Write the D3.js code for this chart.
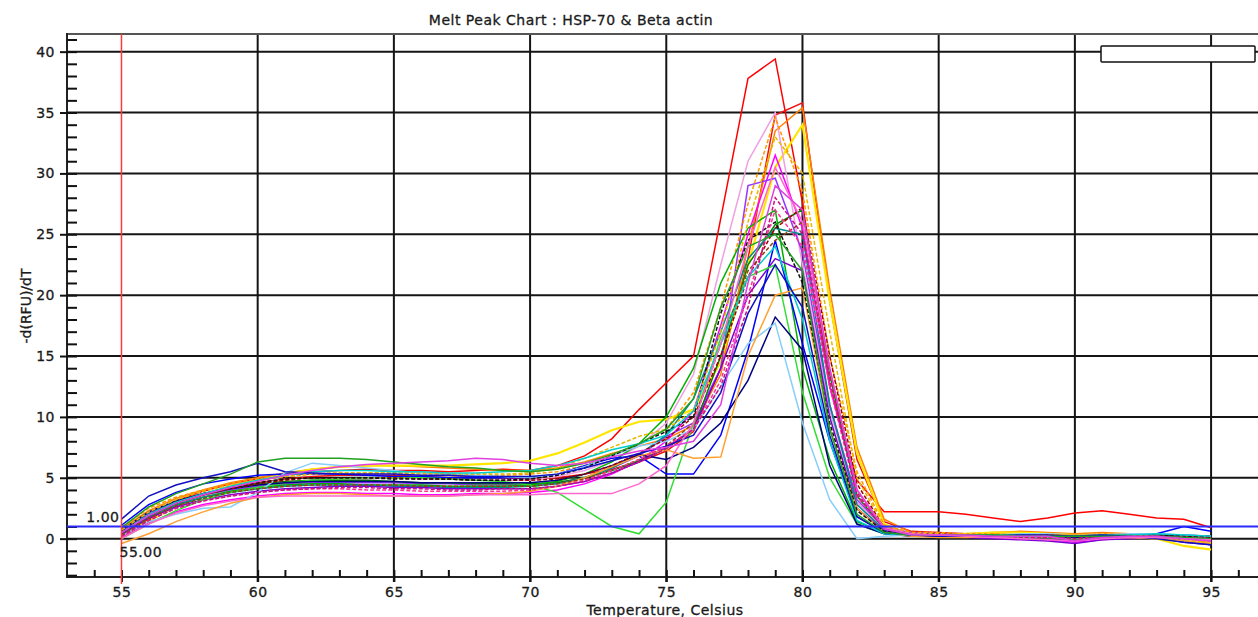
<html>
<head>
  <meta http-equiv="Content-Type" content="text/html;charset=utf-8"/>
  <script src="https://cdn.jsdelivr.net/npm/d3@7/dist/d3.min.js"></script>
  <style>
    body { margin: 0; background: #fff; }
    svg text { font-family: "DejaVu Sans", sans-serif; fill: #1a1a1a; stroke: #1a1a1a; stroke-width: 0.3; font-size: 14px; letter-spacing: 0.5px; }
    .tick line { stroke: #111; stroke-width: 2; }
    .domain { display: none; }
  </style>
</head>
<body>
<div id="chart"></div>
<script>
// melt temperatures (Celsius), one reading per degree
var temps = [55, 56, 57, 58, 59, 60, 61, 62, 63, 64, 65, 66, 67, 68, 69, 70, 71, 72, 73, 74,
             75, 76, 77, 78, 79, 80, 81, 82, 83, 84, 85, 86, 87, 88, 89, 90, 91, 92, 93, 94, 95];

var xMajorTicks = [55, 60, 65, 70, 75, 80, 85, 90, 95];
var yMajorTicks = [0, 5, 10, 15, 20, 25, 30, 35, 40];

var threshold = 1.00;
var beginTemp = 55.00;

var wellColors = ["#ff0000", "#ee1111", "#ff8000", "#ffe600", "#f0a0e0", "#ff00ff", "#9933ff",
                  "#ff9900", "#008000", "#00b000", "#008b8b", "#0000ff", "#7b00d4", "#33dd33",
                  "#000080", "#87cefa", "#ffa030", "#a00000", "#8b4513", "#111111", "#e6b800",
                  "#ff3399", "#00cccc", "#c71585", "#1010c0", "#20a020", "#ff66cc", "#e040e0"];

var wellDashed = [false, false, false, false, false, false, false,
                  true, false, false, false, false, false, false,
                  false, false, false, true, true, true, true,
                  true, false, true, false, false, false, false];

// -d(RFU)/dT per well, 55..95
var wellValues = [
  [0.6, 2.0, 3.1, 3.9, 4.5, 4.9, 5.3, 5.5, 5.6, 5.7, 5.6, 5.6, 5.5, 5.6, 5.7, 5.6, 6.0, 6.8, 8.2, 10.6,
   12.8, 15.0, 26.3, 37.8, 39.4, 27.6, 12.5, 4.8, 2.2, 2.2, 2.2, 2.0, 1.7, 1.4, 1.7, 2.1, 2.3, 2.0, 1.7, 1.6, 0.9],
  [0.2, 1.6, 2.7, 3.5, 4.1, 4.6, 4.9, 5.1, 5.2, 5.2, 5.2, 5.1, 5.0, 5.1, 5.0, 4.9, 5.0, 5.3, 5.7, 6.3,
   7.2, 8.8, 14.0, 23.0, 34.8, 35.8, 19.5, 6.5, 1.4, 0.6, 0.5, 0.4, 0.4, 0.3, 0.3, 0.2, 0.3, 0.3, 0.3, 0.2, 0.1],
  [0.8, 2.3, 3.3, 4.0, 4.6, 5.0, 5.4, 5.7, 5.9, 6.0, 6.0, 5.9, 5.8, 5.7, 5.6, 5.6, 5.8, 6.3, 7.0, 7.6,
   8.2, 9.3, 13.5, 24.0, 33.5, 35.4, 20.5, 7.5, 1.6, 0.5, 0.4, 0.4, 0.5, 0.6, 0.5, 0.4, 0.5, 0.4, 0.3, 0.0, -0.3],
  [0.4, 1.4, 2.7, 3.6, 4.3, 4.8, 5.3, 5.7, 5.9, 6.0, 6.0, 6.0, 6.0, 6.1, 6.2, 6.4, 7.0, 7.9, 8.9, 9.6,
   9.8, 10.6, 14.5, 22.5, 30.5, 34.0, 19.5, 7.0, 1.2, 0.3, 0.2, 0.4, 0.5, 0.5, 0.4, 0.3, 0.3, 0.2, 0.0, -0.6, -0.9],
  [0.3, 1.8, 2.8, 3.5, 3.9, 4.3, 4.6, 4.8, 4.9, 4.9, 5.0, 4.9, 4.9, 4.8, 4.8, 4.8, 5.1, 5.6, 6.4, 7.6,
   9.5, 13.5, 22.5, 31.0, 35.0, 22.5, 10.5, 3.0, 0.8, 0.4, 0.3, 0.3, 0.2, 0.2, 0.1, 0.1, 0.2, 0.3, 0.2, 0.1, 0.0],
  [0.1, 1.3, 2.2, 2.8, 3.2, 3.5, 3.7, 3.8, 3.8, 3.7, 3.7, 3.6, 3.6, 3.7, 3.7, 3.8, 4.0, 4.5, 5.3, 6.4,
   8.0, 10.5, 17.5, 25.0, 31.5, 25.5, 12.5, 4.0, 0.9, 0.4, 0.3, 0.2, 0.1, 0.0, -0.1, -0.3, -0.1, 0.1, 0.1, 0.0, -0.2],
  [0.6, 2.1, 3.0, 3.6, 4.0, 4.3, 4.5, 4.6, 4.6, 4.6, 4.6, 4.5, 4.5, 4.4, 4.4, 4.4, 4.6, 5.0, 5.8, 6.8,
   8.4, 9.5, 14.0, 29.0, 29.6, 23.5, 11.0, 3.2, 0.9, 0.5, 0.4, 0.3, 0.3, 0.2, 0.2, 0.1, 0.2, 0.2, 0.1, -0.2, -0.5],
  [0.9, 2.5, 3.4, 4.0, 4.5, 4.9, 5.1, 5.3, 5.4, 5.4, 5.4, 5.3, 5.3, 5.2, 5.2, 5.3, 5.5, 6.0, 6.8, 7.8,
   9.0, 12.0, 19.0, 27.5, 34.6, 28.5, 15.0, 5.5, 1.1, 0.5, 0.5, 0.4, 0.4, 0.3, 0.3, 0.3, 0.4, 0.4, 0.3, 0.2, 0.1],
  [0.5, 1.9, 2.9, 3.6, 4.1, 4.5, 4.7, 4.8, 4.8, 4.8, 4.7, 4.6, 4.6, 4.5, 4.5, 4.5, 4.6, 5.0, 5.6, 6.4,
   7.4, 9.0, 15.0, 22.5, 25.8, 27.0, 13.5, 3.5, 0.8, 0.4, 0.3, 0.3, 0.3, 0.2, 0.2, 0.2, 0.1, 0.1, 0.2, 0.1, 0.0],
  [0.3, 1.7, 2.7, 3.4, 3.9, 4.2, 4.4, 4.5, 4.5, 4.4, 4.4, 4.4, 4.3, 4.3, 4.3, 4.4, 4.7, 5.3, 6.3, 7.8,
   10.0, 14.0, 21.0, 25.5, 27.0, 14.0, 6.5, 1.4, 0.5, 0.3, 0.3, 0.2, 0.2, 0.1, 0.1, 0.0, 0.1, 0.1, 0.1, 0.0, -0.1],
  [0.4, 1.8, 2.8, 3.4, 3.8, 4.1, 4.3, 4.4, 4.4, 4.4, 4.3, 4.3, 4.2, 4.2, 4.2, 4.3, 4.5, 5.0, 5.8, 6.9,
   8.5, 11.5, 17.0, 23.0, 25.5, 25.0, 11.0, 2.8, 0.7, 0.3, 0.3, 0.2, 0.2, 0.2, 0.1, 0.1, 0.1, 0.2, 0.2, 0.1, 0.0],
  [1.1, 2.8, 3.8, 4.5, 4.9, 5.2, 5.3, 5.3, 5.3, 5.2, 5.1, 5.1, 5.0, 5.0, 5.0, 5.0, 5.3, 6.0, 6.6, 6.8,
   5.3, 5.3, 8.5, 15.5, 24.5, 16.0, 8.0, 1.8, 0.5, 0.3, 0.2, 0.2, 0.3, 0.3, 0.2, 0.1, 0.2, 0.2, 0.4, 1.0, 0.6],
  [0.4, 1.7, 2.6, 3.2, 3.6, 3.9, 4.1, 4.2, 4.3, 4.3, 4.2, 4.2, 4.1, 4.1, 4.1, 4.1, 4.3, 4.7, 5.4, 6.3,
   7.5, 9.0, 14.0, 20.0, 23.0, 22.0, 10.0, 2.5, 0.6, 0.3, 0.2, 0.1, 0.0, -0.1, -0.2, -0.4, -0.1, 0.0, 0.1, -0.3, -0.5],
  [0.0, 1.2, 2.3, 3.2, 3.8, 4.2, 4.6, 4.8, 4.9, 5.0, 5.0, 5.0, 4.9, 4.8, 4.7, 4.4, 3.8, 2.4, 1.0, 0.4,
   3.0, 9.5, 16.5, 21.5, 22.5, 12.0, 5.0, 1.2, 0.4, 0.3, 0.2, 0.2, 0.2, 0.1, 0.1, 0.0, 0.1, 0.1, 0.2, 0.1, 0.0],
  [0.7, 2.2, 3.1, 3.7, 4.1, 4.4, 4.6, 4.7, 4.7, 4.7, 4.7, 4.6, 4.6, 4.6, 4.6, 4.6, 4.8, 5.3, 6.0, 6.9,
   6.5, 7.5, 9.5, 13.0, 18.2, 15.5, 6.0, 1.2, 0.4, 0.2, 0.2, 0.2, 0.3, 0.3, 0.2, 0.1, 0.2, 0.2, 0.3, 0.3, 0.2],
  [0.2, 1.4, 2.0, 2.5, 2.6, 3.8, 5.4, 6.2, 6.0, 5.8, 5.6, 5.4, 5.3, 5.2, 5.1, 5.0, 5.3, 5.9, 6.8, 7.6,
   8.0, 9.0, 12.5, 16.0, 17.7, 9.5, 3.2, 0.0, 0.2, 0.3, 0.3, 0.3, 0.3, 0.4, 0.4, 0.3, 0.3, 0.4, 0.4, 0.3, 0.2],
  [-0.4, 0.4, 1.4, 2.2, 2.9, 3.4, 3.6, 3.7, 3.7, 3.6, 3.5, 3.5, 3.5, 3.6, 3.7, 3.9, 4.3, 5.0, 5.9, 6.8,
   7.3, 6.6, 6.7, 15.0, 20.0, 20.6, 9.0, 2.5, 0.5, 0.2, 0.1, 0.1, 0.2, 0.2, 0.3, 0.3, 0.2, 0.1, 0.0, -0.2, -0.4],
  [0.5, 1.9, 2.9, 3.6, 4.1, 4.5, 4.8, 5.0, 5.0, 5.0, 5.0, 4.9, 4.9, 4.8, 4.8, 4.8, 4.9, 5.3, 6.0, 7.0,
   8.2, 10.0, 15.0, 21.5, 25.5, 27.2, 15.0, 4.5, 0.9, 0.4, 0.4, 0.3, 0.3, 0.3, 0.3, 0.2, 0.3, 0.3, 0.3, 0.2, 0.2],
  [0.3, 1.7, 2.7, 3.3, 3.8, 4.1, 4.3, 4.4, 4.4, 4.4, 4.4, 4.3, 4.3, 4.3, 4.3, 4.3, 4.5, 4.9, 5.6, 6.5,
   7.6, 9.5, 16.0, 22.0, 24.5, 26.0, 13.5, 3.8, 0.8, 0.3, 0.3, 0.3, 0.2, 0.2, 0.2, 0.2, 0.2, 0.3, 0.3, 0.1, 0.0],
  [0.6, 2.0, 3.0, 3.7, 4.2, 4.6, 4.9, 5.0, 5.0, 5.0, 4.9, 4.9, 4.9, 4.8, 4.8, 4.9, 5.2, 5.8, 6.8, 7.8,
   8.8, 10.0, 18.5, 24.5, 26.0, 21.0, 9.5, 2.3, 0.6, 0.3, 0.3, 0.2, 0.3, 0.3, 0.2, 0.2, 0.2, 0.3, 0.3, 0.2, 0.1],
  [0.7, 2.2, 3.2, 3.9, 4.4, 4.8, 5.1, 5.3, 5.4, 5.4, 5.4, 5.4, 5.3, 5.3, 5.3, 5.4, 5.8, 6.6, 7.5, 8.4,
   9.0, 10.5, 17.0, 26.0, 33.0, 30.0, 17.0, 5.0, 1.0, 0.4, 0.4, 0.3, 0.3, 0.3, 0.3, 0.3, 0.3, 0.3, 0.2, -0.1, -0.3],
  [0.1, 1.5, 2.5, 3.1, 3.5, 3.8, 4.0, 4.1, 4.1, 4.0, 4.0, 3.9, 3.9, 3.9, 3.9, 4.0, 4.3, 4.8, 5.6, 6.5,
   7.6, 9.0, 13.0, 20.0, 27.0, 24.0, 12.5, 3.5, 0.8, 0.3, 0.3, 0.2, 0.2, 0.1, 0.1, 0.0, 0.1, 0.2, 0.2, 0.1, 0.0],
  [0.5, 2.0, 3.0, 3.7, 4.3, 4.8, 5.2, 5.5, 5.6, 5.6, 5.5, 5.5, 5.4, 5.4, 5.5, 5.6, 6.0, 6.6, 7.3, 7.8,
   8.5, 10.5, 16.0, 21.5, 24.0, 18.0, 8.0, 1.5, 0.4, 0.3, 0.3, 0.3, 0.3, 0.3, 0.2, 0.2, 0.3, 0.3, 0.4, 0.3, 0.2],
  [0.2, 1.5, 2.5, 3.1, 3.5, 3.8, 4.0, 4.1, 4.2, 4.2, 4.1, 4.1, 4.0, 4.0, 4.1, 4.1, 4.3, 4.7, 5.4, 6.3,
   7.4, 9.0, 12.5, 19.0, 28.0, 25.0, 13.0, 3.6, 0.8, 0.3, 0.3, 0.2, 0.2, 0.1, 0.1, 0.0, 0.1, 0.1, 0.2, 0.1, 0.0],
  [1.6, 3.5, 4.4, 5.0, 5.5, 6.2, 5.5, 5.4, 5.3, 5.3, 5.3, 5.2, 5.2, 5.1, 5.1, 5.1, 5.3, 5.8, 6.4, 7.0,
   7.6, 8.5, 12.0, 18.5, 22.5, 19.0, 8.5, 1.8, 0.5, 0.3, 0.2, 0.2, 0.2, 0.3, 0.3, 0.2, 0.3, 0.2, 0.0, -0.3, -0.5],
  [0.9, 2.6, 3.7, 4.5, 5.3, 6.3, 6.6, 6.6, 6.6, 6.5, 6.3, 6.1, 5.9, 5.8, 5.6, 5.5, 5.7, 6.2, 6.9, 7.8,
   9.0, 11.5, 19.0, 24.0, 25.0, 22.0, 9.0, 2.0, 0.5, 0.3, 0.3, 0.3, 0.3, 0.2, 0.2, 0.2, 0.2, 0.2, 0.2, 0.1, 0.0],
  [0.0, 1.2, 2.1, 2.7, 3.1, 3.4, 3.5, 3.5, 3.5, 3.5, 3.5, 3.5, 3.5, 3.6, 3.6, 3.6, 3.7, 3.7, 3.7, 4.5,
   6.0, 9.5, 16.0, 24.0, 30.5, 26.0, 14.0, 4.0, 0.9, 0.4, 0.3, 0.2, 0.1, 0.0, -0.1, -0.2, 0.0, 0.1, 0.1, 0.0, -0.1],
  [0.5, 1.9, 2.9, 3.6, 4.2, 4.7, 5.2, 5.6, 5.9, 6.1, 6.2, 6.3, 6.4, 6.6, 6.5, 6.2, 6.0, 6.2, 6.7, 7.2,
   7.5, 8.0, 11.0, 21.0, 29.0, 27.0, 14.0, 4.0, 0.8, 0.3, 0.3, 0.3, 0.2, 0.2, 0.2, -0.2, 0.1, 0.2, 0.2, 0.0, -0.2]
];

var W = 1258, H = 617;
var plotLeft = 67, plotTop = 34, plotBottom = 577;

var x = d3.scaleLinear().domain([53, 97]).range([plotLeft, plotLeft + 44 * 27.24]);
var y = d3.scaleLinear().domain([-3.15, 41.45]).range([plotBottom, plotTop]);

var svg = d3.select("#chart").append("svg")
  .attr("width", W).attr("height", H);

svg.append("defs").append("clipPath").attr("id", "plotclip")
  .append("rect").attr("x", plotLeft).attr("y", plotTop)
  .attr("width", W - plotLeft).attr("height", plotBottom - plotTop);

// title
svg.append("text")
  .attr("x", 571).attr("y", 25)
  .attr("text-anchor", "middle")
  .text("Melt Peak Chart : HSP-70 & Beta actin");

// grid
svg.append("g").selectAll("line").data(yMajorTicks).enter().append("line")
  .attr("x1", plotLeft).attr("x2", W)
  .attr("y1", function(d) { return y(d); }).attr("y2", function(d) { return y(d); })
  .attr("stroke", "#151515").attr("stroke-width", 2);

svg.append("g").selectAll("line").data(xMajorTicks.filter(function(d) { return d !== beginTemp; })).enter().append("line")
  .attr("x1", function(d) { return x(d); }).attr("x2", function(d) { return x(d); })
  .attr("y1", plotTop).attr("y2", plotBottom + 5)
  .attr("stroke", "#151515").attr("stroke-width", 2);

// frame
svg.append("line").attr("x1", plotLeft).attr("x2", W).attr("y1", plotTop).attr("y2", plotTop)
  .attr("stroke", "#555").attr("stroke-width", 2);
svg.append("line").attr("x1", plotLeft).attr("x2", plotLeft).attr("y1", plotTop - 1).attr("y2", plotBottom + 1)
  .attr("stroke", "#222").attr("stroke-width", 2);
svg.append("line").attr("x1", plotLeft).attr("x2", W).attr("y1", plotBottom).attr("y2", plotBottom)
  .attr("stroke", "#222").attr("stroke-width", 2);

// y axis: major ticks outside with labels, minor ticks inside
svg.append("g").attr("transform", "translate(" + plotLeft + ",0)")
  .call(d3.axisLeft(y).tickValues(yMajorTicks).tickSize(7).tickPadding(5))
  .call(function(g) { g.selectAll("text").attr("font-size", null).attr("font-family", null); });

svg.append("g").attr("transform", "translate(" + plotLeft + ",0)")
  .call(d3.axisLeft(y).tickValues(d3.range(-3, 42)).tickSize(-10).tickFormat(""));

// x axis
svg.append("g").attr("transform", "translate(0," + plotBottom + ")")
  .call(d3.axisBottom(x).tickValues(xMajorTicks).tickSize(5).tickPadding(5))
  .call(function(g) { g.selectAll("text").attr("font-size", null).attr("font-family", null); });

svg.append("g").attr("transform", "translate(0," + plotBottom + ")")
  .call(d3.axisBottom(x).tickValues(d3.range(54, 97)).tickSize(-7).tickFormat(""));

svg.append("text")
  .attr("x", 665).attr("y", 615)
  .attr("text-anchor", "middle")
  .text("Temperature, Celsius");

svg.append("text")
  .attr("transform", "translate(31,306) rotate(-90)")
  .attr("text-anchor", "middle")
  .style("letter-spacing", "0px")
  .text("-d(RFU)/dT");

// melt curves
var line = d3.line()
  .x(function(d, i) { return x(temps[i]); })
  .y(function(d) { return y(d); });

svg.append("g").attr("clip-path", "url(#plotclip)")
  .selectAll("path").data(wellValues).enter().append("path")
  .attr("d", line)
  .attr("fill", "none")
  .attr("stroke", function(d, i) { return wellColors[i]; })
  .attr("stroke-width", function(d, i) { return wellColors[i] === "#ffe600" ? 2.2 : 1.5; })
  .attr("stroke-dasharray", function(d, i) { return wellDashed[i] ? "4,2" : null; });

// threshold and begin-temperature markers
svg.append("line")
  .attr("x1", plotLeft).attr("x2", W)
  .attr("y1", y(threshold)).attr("y2", y(threshold))
  .attr("stroke", "#2a2aff").attr("stroke-width", 2);

svg.append("line")
  .attr("x1", x(beginTemp)).attr("x2", x(beginTemp))
  .attr("y1", plotTop).attr("y2", plotBottom + 7)
  .attr("stroke", "#ff3a3a").attr("stroke-width", 1.5);

svg.append("text")
  .attr("x", x(beginTemp) - 2).attr("y", y(threshold) - 4)
  .attr("text-anchor", "end")
  .text(threshold.toFixed(2));

svg.append("text")
  .attr("x", x(beginTemp) - 2).attr("y", 557)
  .text(beginTemp.toFixed(2));

// empty legend box
svg.append("rect")
  .attr("x", 1101).attr("y", 46).attr("width", 154).attr("height", 16)
  .attr("rx", 1)
  .attr("fill", "#fff").attr("stroke", "#111").attr("stroke-width", 1.5);
</script>
</body>
</html>
